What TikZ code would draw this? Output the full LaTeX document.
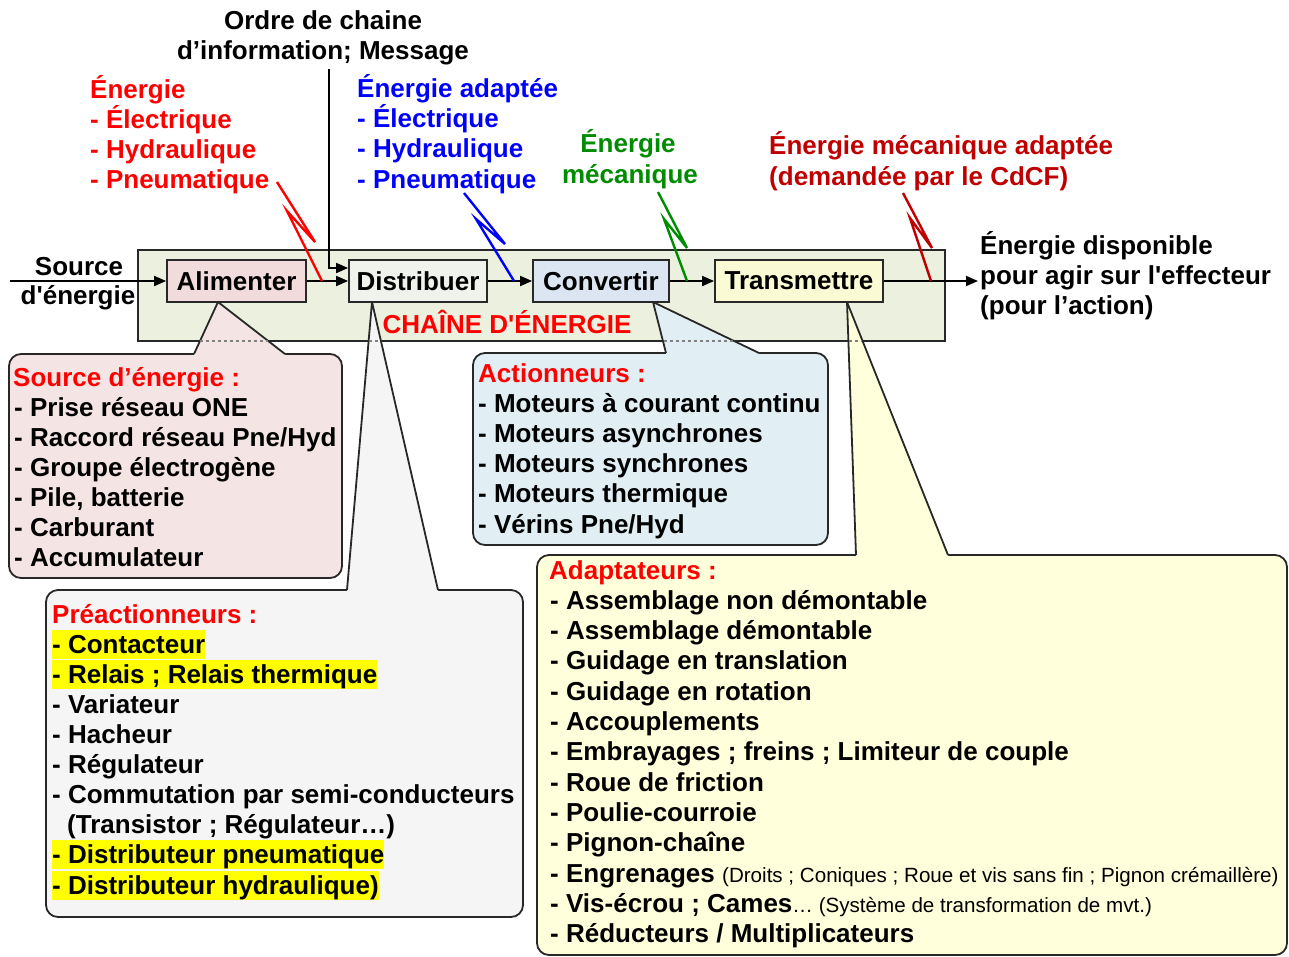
\documentclass[tikz,border=0pt]{standalone}
\usepackage{fontspec}
\setmainfont{Liberation Sans}
\usetikzlibrary{arrows.meta}
\definecolor{cred}{RGB}{255,0,0}
\definecolor{cblue}{RGB}{0,0,255}
\definecolor{cgreen}{RGB}{0,140,0}
\definecolor{cdred}{RGB}{192,0,0}
\definecolor{chainfill}{RGB}{235,241,222}
\definecolor{alimfill}{RGB}{242,220,219}
\definecolor{distfill}{RGB}{240,243,236}
\definecolor{convfill}{RGB}{220,230,242}
\definecolor{transfill}{RGB}{250,250,212}
\definecolor{srcfill}{RGB}{245,228,228}
\definecolor{prefill}{RGB}{245,245,245}
\definecolor{actfill}{RGB}{225,239,245}
\definecolor{adafill}{RGB}{255,255,220}
\definecolor{edge}{RGB}{40,40,40}
\definecolor{hl}{RGB}{255,255,0}
\begin{document}
\begin{tikzpicture}[x=1pt,y=-1pt,
  lbl/.style={font=\fontsize{26}{30}\selectfont\bfseries, inner sep=0pt, anchor=base west},
  hlbl/.style={lbl, fill=hl, text height=23pt, text depth=6pt},
  blk/.style={draw=edge, line width=1.8pt, font=\fontsize{26}{30}\selectfont\bfseries, inner sep=0pt, minimum height=42pt},
  flow/.style={line width=1.8pt, draw=black, -{Triangle[length=12pt,width=10pt]}},
  bolt/.style={line width=2.4pt},
  callout/.style={draw=edge, line width=1.8pt, rounded corners=12pt},
  ptr/.style={draw=edge, line width=1.8pt},
  crossing/.style={draw=gray, dashed, line width=1.2pt}
]
\useasboundingbox (0,0) rectangle (1289,956);

% energy chain frame
\draw[draw=edge, line width=1.8pt, fill=chainfill] (138,250) rectangle (945,341);

% callout: Source d'energie
\draw[callout, fill=srcfill] (9,354) rectangle (342,578);
\fill[srcfill] (194,354) -- (218,302) -- (285,354) -- (285,355.8) -- (194,355.8) -- cycle;
\draw[ptr] (194,354) -- (218,302) -- (285,354);
\draw[crossing] (200,341) -- (268,341);

% callout: Preactionneurs
\draw[callout, fill=prefill] (46,590) rectangle (523,917);
\fill[prefill] (347,590) -- (372,302) -- (438,590) -- (438,591.8) -- (347,591.8) -- cycle;
\draw[ptr] (347,590) -- (372,302) -- (438,590);
\draw[crossing] (369,341) -- (381,341);

% callout: Actionneurs
\draw[callout, fill=actfill] (473,353) rectangle (828,545);
\fill[actfill] (666,353) -- (653,302) -- (759,353) -- (759,354.8) -- (666,354.8) -- cycle;
\draw[ptr] (666,353) -- (653,302) -- (759,353);
\draw[crossing] (664,341) -- (734,341);

% callout: Adaptateurs
\draw[callout, fill=adafill] (537,555) rectangle (1287,955);
\fill[adafill] (856,555) -- (847,302) -- (948,555) -- (948,556.8) -- (856,556.8) -- cycle;
\draw[ptr] (856,555) -- (847,302) -- (948,555);
\draw[crossing] (849,341) -- (862,341);

% blocks
\node[blk, fill=alimfill, minimum width=139pt] (alim) at (236.5,281) {Alimenter};
\node[blk, fill=distfill, minimum width=138pt] (dist) at (418,281) {Distribuer};
\node[blk, fill=convfill, minimum width=136pt] (conv) at (601,281) {Convertir};
\node[blk, fill=transfill, minimum width=168pt] (trans) at (799,281) {Transmettre};

% flow arrows
\coordinate (src) at (10,281);
\coordinate (out) at (978,281);
\coordinate (info) at (329,69);
\draw[flow] (src) -- (alim);
\draw[flow] (alim) -- (dist);
\draw[flow] (dist) -- (conv);
\draw[flow] (conv) -- (trans);
\draw[flow] (trans) -- (out);
\draw[flow] (info) |- ([yshift=13pt]dist.west);

% lightning symbols
\draw[bolt, cred] (277,182) -- (315,242) -- (287,211) -- (322,281);
\draw[bolt, cblue] (464,193) -- (505,244) -- (476,219) -- (514,281);
\draw[bolt, cgreen] (658,192) -- (687,248) -- (664,219) -- (687,281);
\draw[bolt, cdred] (903,193) -- (932,248) -- (910,218) -- (931,281);

% top labels
\node[lbl, anchor=base] (h1) at (323,29) {Ordre de chaine};
\node[lbl, anchor=base] (h2) at (323,59) {d’information; Message};

\node[lbl, cred] (r1) at (90,98) {Énergie};
\node[lbl, cred] (r2) at (90,128) {- Électrique};
\node[lbl, cred] (r3) at (90,158) {- Hydraulique};
\node[lbl, cred] (r4) at (90,188) {- Pneumatique};

\node[lbl, cblue] (b1) at (357,97) {Énergie adaptée};
\node[lbl, cblue] (b2) at (357,127) {- Électrique};
\node[lbl, cblue] (b3) at (357,157) {- Hydraulique};
\node[lbl, cblue] (b4) at (357,188) {- Pneumatique};

\node[lbl, cgreen, anchor=base] (g1) at (628,152) {Énergie};
\node[lbl, cgreen, anchor=base] (g2) at (630,183) {mécanique};

\node[lbl, cdred] (d1) at (769,154) {Énergie mécanique adaptée};
\node[lbl, cdred] (d2) at (769,185) {(demandée par le CdCF)};

\node[lbl, anchor=base] (s1) at (79,275) {Source};
\node[lbl, anchor=base] (s2) at (78,304) {d\textquotesingle énergie};

\node[lbl] (e1) at (980,254) {Énergie disponible};
\node[lbl] (e2) at (980,284) {pour agir sur l\textquotesingle effecteur};
\node[lbl] (e3) at (980,314) {(pour l’action)};

\node[lbl, cred, anchor=base] (chain) at (507,333) {CHAÎNE D\textquotesingle ÉNERGIE};

% Source d'energie list
\node[lbl, cred] (st) at (13,386) {Source d’énergie :};
\foreach \t [count=\i] in {- Prise réseau ONE, - Raccord réseau Pne/Hyd, - Groupe électrogène, {- Pile, batterie}, - Carburant, - Accumulateur}
  \node[lbl] (si\i) at (14,386+30.1*\i) {\t};

% Actionneurs list
\node[lbl, cred] (at) at (478,382) {Actionneurs :};
\foreach \t [count=\i] in {- Moteurs à courant continu, - Moteurs asynchrones, - Moteurs synchrones, - Moteurs thermique, - Vérins Pne/Hyd}
  \node[lbl] (ai\i) at (478,382+30.2*\i) {\t};

% Preactionneurs list
\node[lbl, cred] (pt) at (52,623) {Préactionneurs :};
\node[hlbl] (p1) at (52,653) {- Contacteur};
\node[hlbl] (p2) at (52,683) {- Relais ; Relais thermique};
\node[lbl] (p3) at (52,713) {- Variateur};
\node[lbl] (p4) at (52,743) {- Hacheur};
\node[lbl] (p5) at (52,773) {- Régulateur};
\node[lbl] (p6) at (52,803) {- Commutation par semi-conducteurs};
\node[lbl] (p7) at (67,833) {(Transistor ; Régulateur…)};
\node[hlbl] (p8) at (52,863) {- Distributeur pneumatique};
\node[hlbl] (p9) at (52,894) {- Distributeur hydraulique)};

% Adaptateurs list
\node[lbl, cred] (dt) at (549,579) {Adaptateurs :};
\foreach \t [count=\i] in {- Assemblage non démontable, - Assemblage démontable, - Guidage en translation, - Guidage en rotation, - Accouplements, - Embrayages ; freins ; Limiteur de couple, - Roue de friction, - Poulie-courroie, - Pignon-chaîne}
  \node[lbl] (di\i) at (550,579+30.3*\i) {\t};
\node[lbl] (di10) at (550,882) {- Engrenages \textnormal{\fontsize{20.6}{24}\selectfont(Droits ; Coniques ; Roue et vis sans fin ; Pignon crémaillère)}};
\node[lbl] (di11) at (550,912) {- Vis-écrou ; Cames\textnormal{\fontsize{20.6}{24}\selectfont… (Système de transformation de mvt.)}};
\node[lbl] (di12) at (550,942) {- Réducteurs / Multiplicateurs};
\end{tikzpicture}
\end{document}
